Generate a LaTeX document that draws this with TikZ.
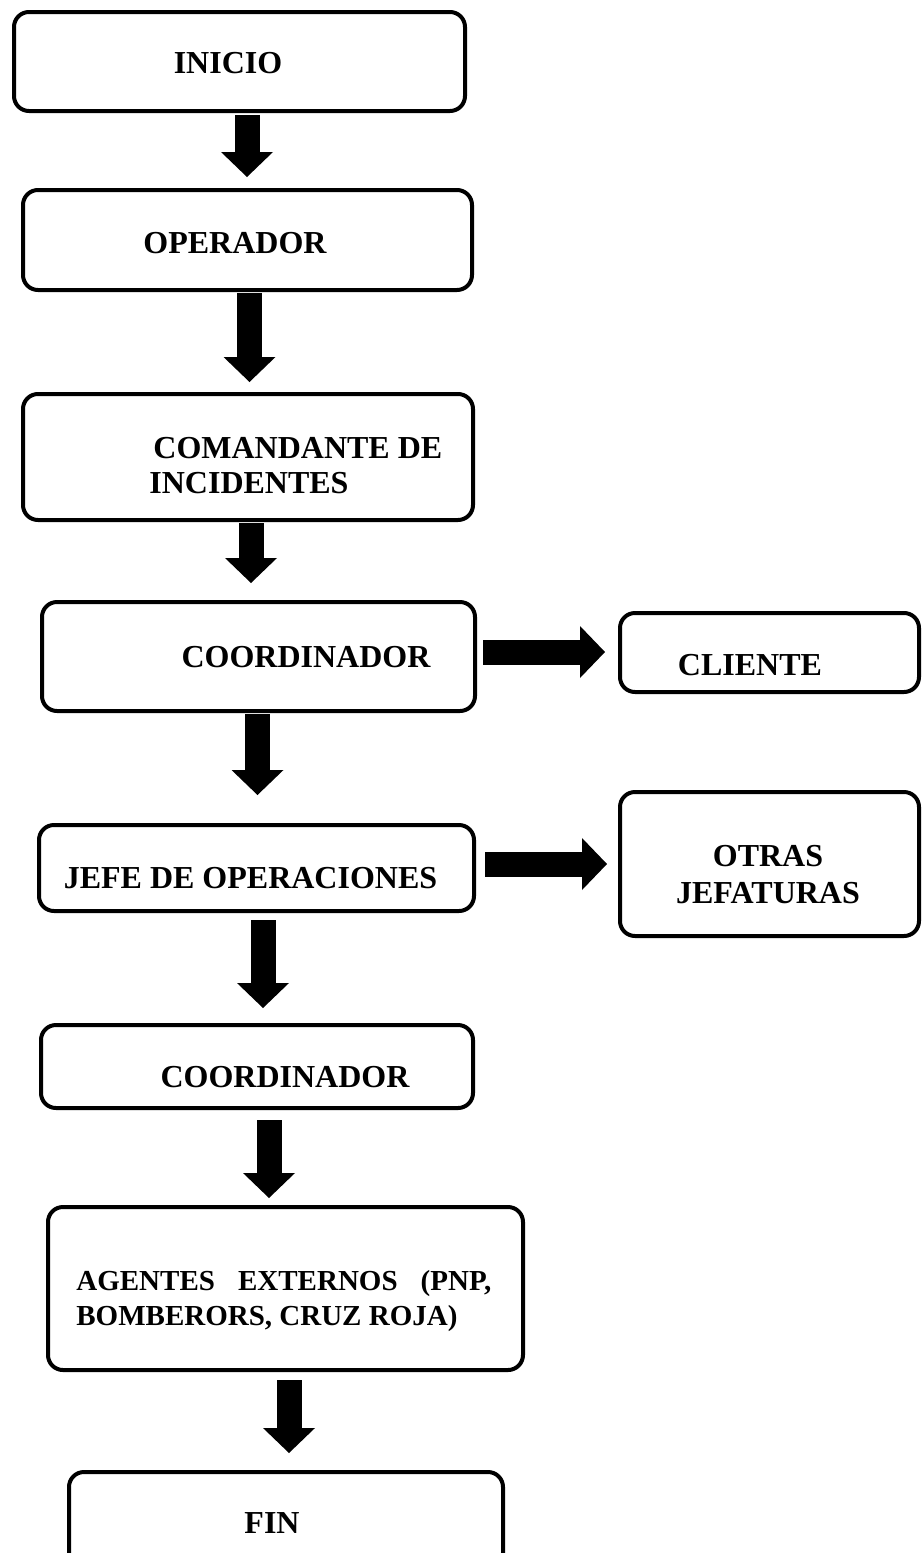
\documentclass[tikz,border=0pt]{standalone}
\usepackage{fontspec}
\setmainfont{Liberation Serif}
\usetikzlibrary{arrows.meta,calc}
\tikzset{
  flowbox/.style={draw, line width=2pt, rounded corners=7.5pt, inner sep=0pt, fill=white},
  lbl/.style={inner sep=0pt, font=\bfseries\fontsize{16pt}{17.5pt}\selectfont},
  smalllbl/.style={inner sep=0pt, font=\bfseries\fontsize{14.5pt}{17.5pt}\selectfont},
  blkarrow/.style={line width=12.5pt, -{Triangle[width=26pt,length=12.5pt,line width=0pt]}},
}
\begin{document}
\begin{tikzpicture}[x=0.5pt,y=-0.5pt]
\useasboundingbox (0,0) rectangle (924,1553);
\clip (0,0) rectangle (924,1553);
% boxes
\node[flowbox, minimum width=225.5pt, minimum height=49.5pt] (ini) at (239.5,61.5) {};
\node[flowbox, minimum width=224.5pt, minimum height=50pt]   (ope) at (247.5,240) {};
\node[flowbox, minimum width=225pt,   minimum height=63pt]   (com) at (248,457) {};
\node[flowbox, minimum width=216.5pt, minimum height=54.5pt] (co1) at (258.5,656.5) {};
\node[flowbox, minimum width=149.5pt, minimum height=39.5pt] (cli) at (769.5,652.5) {};
\node[flowbox, minimum width=217.5pt, minimum height=43pt]   (jefe) at (256.5,868) {};
\node[flowbox, minimum width=149.5pt, minimum height=72pt]   (otr) at (769.5,864) {};
\node[flowbox, minimum width=216pt,   minimum height=41.5pt] (co2) at (257,1066.5) {};
\node[flowbox, minimum width=237.5pt, minimum height=81.5pt] (age) at (285.5,1288.5) {};
\node[flowbox, minimum width=217pt,   minimum height=48pt]   (fin) at (286,1520) {};
% labels
\node[lbl, anchor=base] (tini) at (228,73) {INICIO};
\node[lbl, anchor=base] (tope) at (235,253) {OPERADOR};
\node[lbl, anchor=base west] (tcom1) at (153,458) {COMANDANTE DE};
\node[lbl, anchor=base west] (tcom2) at (149,493) {INCIDENTES};
\node[lbl, anchor=base] (tco1) at (306,667) {COORDINADOR};
\node[lbl, anchor=base] (tcli) at (750,675) {CLIENTE};
\node[lbl, anchor=base] (tjefe) at (250.5,888) {JEFE DE OPERACIONES};
\node[lbl, anchor=base] (totr1) at (768,866) {OTRAS};
\node[lbl, anchor=base] (totr2) at (768,903) {JEFATURAS};
\node[lbl, anchor=base] (tco2) at (285,1087) {COORDINADOR};
\node[smalllbl, anchor=base west] (tage1) at (76,1290) {\makebox[207.5pt][s]{AGENTES EXTERNOS (PNP,}};
\node[smalllbl, anchor=base west] (tage2) at (76,1325) {BOMBERORS, CRUZ ROJA)};
\node[lbl, anchor=base] (tfin) at (272,1533) {FIN};
% arrows
\draw[blkarrow] ($(ini.south)+(7.5,2)$) -- ($(ope.north)+(-0.5,-11)$);
\draw[blkarrow] ($(ope.south)+(2,1)$) -- ($(com.north)+(1.5,-10)$);
\draw[blkarrow] ($(com.south)+(3,1)$) -- ($(co1.north)+(-7.5,-17)$);
\draw[blkarrow] ($(co1.east)+(6,-4.5)$) -- ($(cli.west)+(-13,-0.5)$);
\draw[blkarrow] ($(co1.south)+(-1,1)$) -- ($(jefe.north)+(1,-28)$);
\draw[blkarrow] ($(jefe.east)+(9,-4)$) -- ($(otr.west)+(-11,0)$);
\draw[blkarrow] ($(jefe.south)+(6.5,7)$) -- ($(co2.north)+(6,-15)$);
\draw[blkarrow] ($(co2.south)+(12,10)$) -- ($(age.north)+(-16.5,-7)$);
\draw[blkarrow] ($(age.south)+(3.5,8)$) -- ($(fin.north)+(3,-17)$);
\end{tikzpicture}
\end{document}
